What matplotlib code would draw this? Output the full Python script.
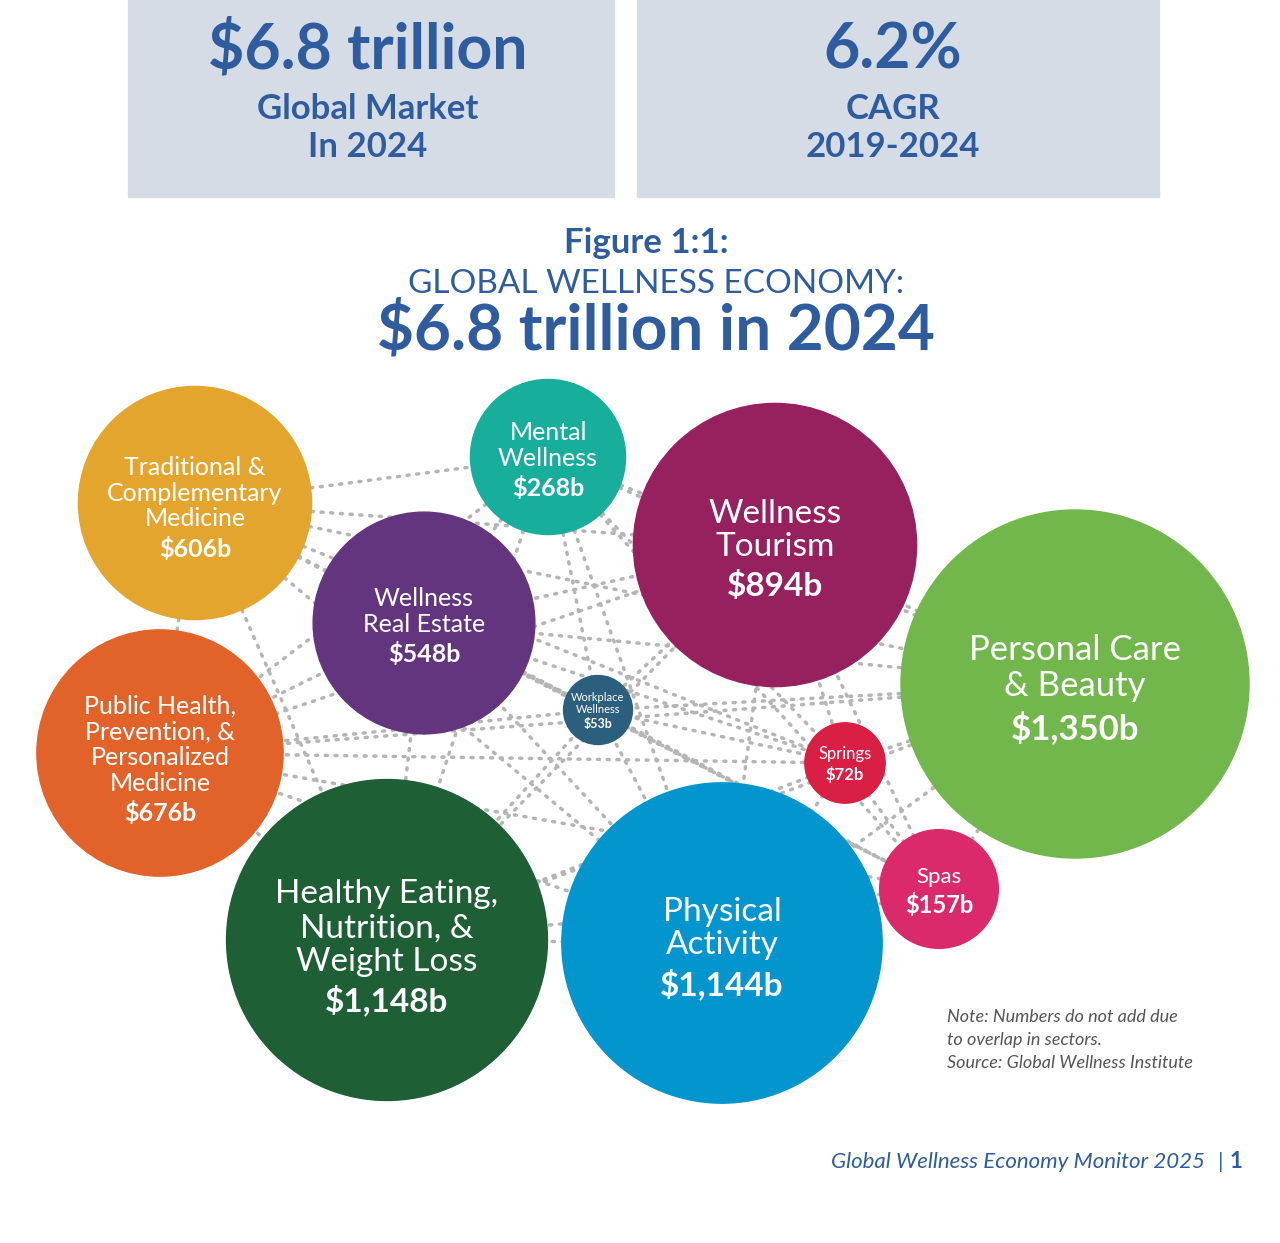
import matplotlib.pyplot as plt
from matplotlib.patches import Circle, Rectangle
import itertools

plt.rcParams['font.family'] = ['Lato', 'DejaVu Sans']

# sector data
sectors = ["Traditional &\nComplementary\nMedicine", "Mental\nWellness", "Wellness\nTourism",
           "Wellness\nReal Estate", "Personal Care\n& Beauty", "Public Health,\nPrevention, &\nPersonalized\nMedicine",
           "Workplace\nWellness", "Springs", "Spas", "Healthy Eating,\nNutrition, &\nWeight Loss", "Physical\nActivity"]
values = [606, 268, 894, 548, 1350, 676, 53, 72, 157, 1148, 1144]
value_labels = ["$606b", "$268b", "$894b", "$548b", "$1,350b", "$676b", "$53b", "$72b", "$157b", "$1,148b", "$1,144b"]
colors = ["#E3A52E", "#17AE9C", "#96215E", "#63357F", "#72B74C", "#E2632A",
          "#2C5F7E", "#D91F43", "#DA2A6B", "#1E5F35", "#0295CE"]

# layout (pixel centres)
centres = [(195, 503), (548, 457), (775, 545), (424, 623), (1075, 684), (160, 753),
           (598, 710), (845, 763), (939, 889), (387, 940), (722, 943)]
name_size = [18, 18, 24, 18, 25, 18, 8, 12, 16, 24, 24]
val_size = [18, 18, 24, 18, 25, 18, 9, 12, 17, 24, 24]

blue = "#2F5C9E"
fig = plt.figure(figsize=(12.8, 12.43), dpi=100)
ax = fig.add_axes([0, 0, 1, 1])
ax.set_xlim(0, 1280)
ax.set_ylim(1243, 0)
ax.axis('off')

# header boxes
ax.add_patch(Rectangle((128, 0), 486, 197, color="#D5DCE6"))
ax.add_patch(Rectangle((637, 0), 522, 197, color="#D5DCE6"))
ax.text(368, 50, "$6.8 trillion", ha='center', va='center', fontsize=45, fontweight='bold', color=blue)
ax.text(368, 128, "Global Market\nIn 2024", ha='center', va='center', fontsize=25, fontweight='bold', color=blue, linespacing=1.25)
ax.text(893, 50, "6.2%", ha='center', va='center', fontsize=45, fontweight='bold', color=blue)
ax.text(893, 128, "CAGR\n2019-2024", ha='center', va='center', fontsize=25, fontweight='bold', color=blue, linespacing=1.25)

ax.text(646, 243, "Figure 1:1:", ha='center', va='center', fontsize=25, fontweight='bold', color=blue)
ax.text(656, 284, "GLOBAL WELLNESS ECONOMY:", ha='center', va='center', fontsize=24, color=blue)
ax.text(656, 330, "$6.8 trillion in 2024", ha='center', va='center', fontsize=46, fontweight='bold', color=blue)

# dotted connectors
for (x1, y1), (x2, y2) in itertools.combinations(centres, 2):
    ax.plot([x1, x2], [y1, y2], ls=(0, (0.6, 2.2)), color="#B5B5B5", lw=2.5,
            dash_capstyle='round', zorder=1)

for c, v, name, lab, col, ns, vs in zip(centres, values, sectors, value_labels, colors, name_size, val_size):
    r = 174 * (v / 1350) ** 0.5
    ax.add_patch(Circle(c, r, color=col, zorder=2))
    nlines = name.count("\n") + 1
    name_h = nlines * ns * 1.39 * 1.15
    val_h = vs * 1.39
    gap = ns * 0.35
    top = c[1] - (name_h + gap + val_h) / 2
    ax.text(c[0], top + name_h, name, ha='center', va='bottom', fontsize=ns, color='white',
            zorder=3, linespacing=1.15)
    ax.text(c[0], top + name_h + gap, lab, ha='center', va='top', fontsize=vs,
            fontweight='bold', color='white', zorder=3)

ax.text(947, 1040, "Note: Numbers do not add due\nto overlap in sectors.\nSource: Global Wellness Institute",
        ha='left', va='center', fontsize=13, style='italic', color="#555555", linespacing=1.5)
ax.text(1205, 1162, "Global Wellness Economy Monitor 2025", ha='right', va='center', fontsize=16, style='italic', color=blue)
ax.text(1218, 1162, "|", ha='left', va='center', fontsize=16, color=blue)
ax.text(1230, 1162, "1", ha='left', va='center', fontsize=16, fontweight='bold', color=blue)

fig.savefig("out.png", dpi=100, facecolor='white')
